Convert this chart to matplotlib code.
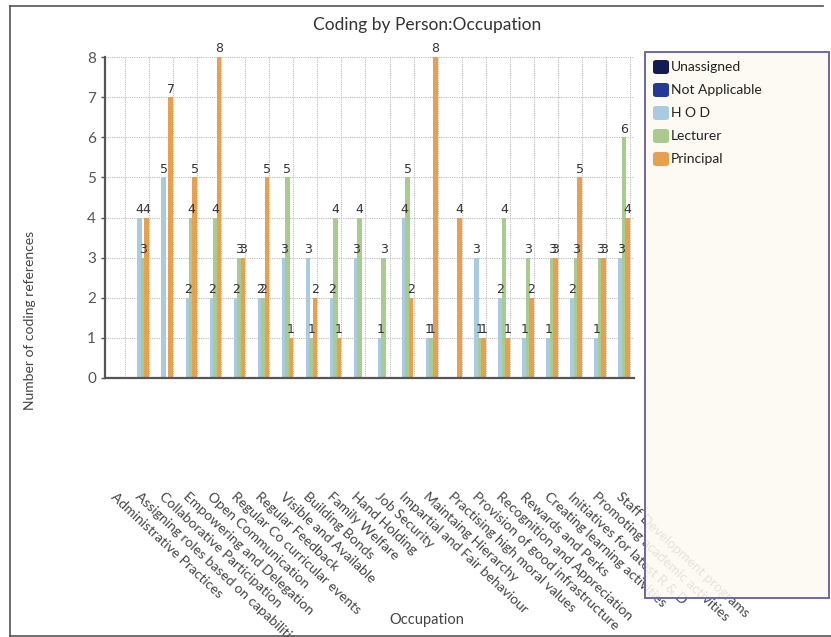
import matplotlib.pyplot as plt
from matplotlib.patches import FancyBboxPatch, Rectangle
from matplotlib.lines import Line2D
import numpy as np

plt.rcParams['font.family'] = ['Lato', 'DejaVu Sans']

occupations = [
    "Administrative Practices",
    "Assigning roles based on capabilities",
    "Collaborative Participation",
    "Empowering and Delegation",
    "Open Communication",
    "Regular Co curricular events",
    "Regular Feedback",
    "Visible and Available",
    "Building Bonds",
    "Family Welfare",
    "Hand Holding",
    "Job Security",
    "Impartial and Fair behaviour",
    "Maintaing Hierarchy",
    "Practising high moral values",
    "Provision of good infrastructure",
    "Recognition and Appreciation",
    "Rewards and Perks",
    "Creating learning activities",
    "Initiatives for latest R & D",
    "Promoting academic activities",
    "Staff Development programs",
]

unassigned = [0, 0, 0, 0, 0, 0, 0, 0, 0, 0, 0, 0, 0, 0, 0, 0, 0, 0, 0, 0, 0, 0]
not_applicable = [0, 0, 0, 0, 0, 0, 0, 0, 0, 0, 0, 0, 0, 0, 0, 0, 0, 0, 0, 0, 0, 0]
hod = [0, 4, 5, 2, 2, 2, 2, 3, 3, 2, 3, 1, 4, 1, 0, 3, 2, 1, 1, 2, 1, 3]
lecturer = [0, 3, 0, 4, 4, 3, 2, 5, 1, 4, 4, 3, 5, 1, 0, 1, 4, 3, 3, 3, 3, 6]
principal = [0, 4, 7, 5, 8, 3, 5, 1, 2, 1, 0, 0, 2, 8, 4, 1, 1, 2, 3, 5, 3, 4]

series_names = ["Unassigned", "Not Applicable", "H O D", "Lecturer", "Principal"]
series_values = [unassigned, not_applicable, hod, lecturer, principal]
colors = ["#141a52", "#22399a", "#a9cbe0", "#a9cc8e", "#e79f50"]

fig = plt.figure(figsize=(8.31, 6.37), dpi=100)
ax = fig.add_axes([0.1264, 0.4066, 0.6366, 0.5039])

x = np.arange(len(occupations))
step = 0.145
width = 0.19
for i, (name, vals, col) in enumerate(zip(series_names, series_values, colors)):
    pos = x + (i - 2.4) * step
    ax.bar(pos, vals, width=width, color=col, zorder=2)
    for px, v in zip(pos, vals):
        if v > 0:
            ax.text(px, v + 0.04, str(v), ha='center', va='bottom',
                    fontsize=9, color='#333333', zorder=4,
                    family=['DejaVu Sans'])

ax.set_xlim(-0.5, len(occupations) - 0.5)
ax.set_ylim(0, 8)
ax.set_yticks(range(0, 9))
ax.set_xticks([])

# dotted grid
for yv in range(1, 9):
    ax.axhline(yv, color='#bbbbbb', lw=0.8, ls=(0, (1, 1)), zorder=1)
for xv in x + 0.33:
    ax.axvline(xv, color='#bbbbbb', lw=0.8, ls=(0, (1, 1)), zorder=1)

for s in ['top', 'right']:
    ax.spines[s].set_visible(False)
for s in ['left', 'bottom']:
    ax.spines[s].set_color('#555555')
    ax.spines[s].set_linewidth(1.6)
ax.tick_params(axis='y', colors='#555555', labelsize=11, length=3, width=1)

# rotated category labels
for xi, lab in zip(x, occupations):
    ax.text(xi, -0.35, lab, transform=ax.get_xaxis_transform(),
            rotation=-43, rotation_mode='anchor', ha='left', va='top',
            fontsize=10, color='#444444', clip_on=False)

fig.text(0.514, 0.961, "Coding by Person:Occupation", ha='center', va='center',
         fontsize=12.5, color='#333333')
fig.text(0.036, 0.497, "Number of coding references", rotation=90,
         ha='center', va='center', fontsize=10, color='#444444')
fig.text(0.514, 0.027, "Occupation", ha='center', va='center',
         fontsize=10.5, color='#444444')

# outer frame lines
W, H = 831, 637
fig.add_artist(Line2D([10 / W, 10 / W], [1 - 6 / H, 1 - 636 / H], color='#555555', lw=1.2))
fig.add_artist(Line2D([10 / W, 823 / W], [1 - 6 / H, 1 - 6 / H], color='#555555', lw=1.2))
fig.add_artist(Line2D([10 / W, 831 / W], [1 - 636 / H, 1 - 636 / H], color='#555555', lw=1.2))

# legend panel
box = Rectangle((645 / W, 1 - 598 / H), (829 - 645) / W, (598 - 52) / H,
                transform=fig.transFigure, facecolor='#fdf9f2', alpha=0.88,
                edgecolor='none', zorder=10)
fig.add_artist(box)
edge = Rectangle((645 / W, 1 - 598 / H), (829 - 645) / W, (598 - 52) / H,
                 transform=fig.transFigure, facecolor='none',
                 edgecolor='#6c68a8', lw=1.4, zorder=11)
fig.add_artist(edge)
for k, (name, col) in enumerate(zip(series_names, colors)):
    yc = 67 + k * 23
    sw = FancyBboxPatch((653 / W, 1 - (yc + 7) / H), 16 / W, 14 / H,
                        boxstyle="round,pad=0,rounding_size=0.004",
                        transform=fig.transFigure, facecolor=col,
                        edgecolor='none', zorder=12)
    fig.add_artist(sw)
    fig.text(671 / W, 1 - yc / H, name, ha='left', va='center',
             fontsize=10, color='#222222', zorder=13)

fig.savefig("out.png", dpi=100)
